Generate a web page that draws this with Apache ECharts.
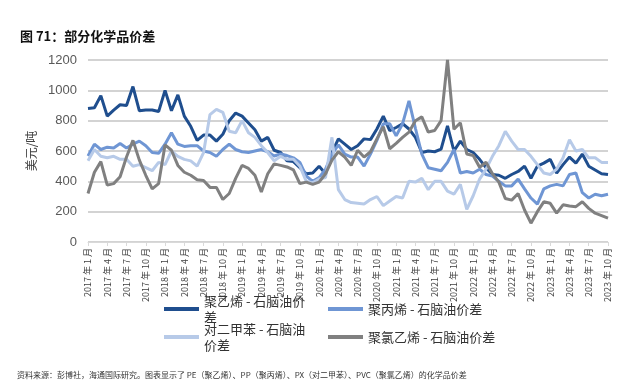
<!DOCTYPE html>
<html><head><meta charset="utf-8">
<script src="https://cdn.jsdelivr.net/npm/echarts@6/dist/echarts.min.js"></script>
<style>html,body{margin:0;padding:0;background:#fff}#c{width:634px;height:386px}</style>
</head><body><div id="c"></div>
<script>
// ---- data ----
const startYear = 2017, monthCount = 82; // 2017-01 .. 2023-10
const categories = [];
for (let i = 0; i < monthCount; i++) {
  const y = startYear + Math.floor(i / 12), m = (i % 12) + 1;
  categories.push(y + ' 年 ' + m + ' 月');
}
const seriesNames = ['聚乙烯 - 石脑油价差', '聚丙烯 - 石脑油价差', '对二甲苯 - 石脑油价差', '聚氯乙烯 - 石脑油价差'];
const pe = [880,885,965,830,870,905,900,1025,865,870,870,860,
            1000,865,970,830,763,670,705,705,665,710,800,850,
            830,785,740,665,690,605,590,535,530,490,450,455,
            500,450,590,680,645,610,635,680,675,745,830,735,
            755,780,745,690,590,600,595,612,765,600,665,610,
            590,545,490,445,440,420,445,465,500,420,500,520,
            545,455,510,560,520,580,500,475,450,445];
const pp = [567,645,610,625,620,650,620,645,665,635,590,585,
            645,720,645,630,635,635,600,590,565,610,645,610,
            595,590,600,610,595,567,580,570,555,525,435,400,
            425,480,580,640,580,560,560,500,580,670,780,780,
            700,780,930,750,580,490,480,470,525,610,455,465,
            455,480,445,435,400,370,370,415,350,290,250,350,
            370,380,370,445,455,325,290,315,305,315];
const px = [535,610,565,555,565,545,545,500,510,490,470,525,
            510,600,565,545,535,500,590,840,875,855,730,720,
            800,720,690,635,590,535,565,545,545,500,400,390,
            415,425,690,345,280,260,255,250,280,300,240,270,
            300,290,400,395,420,345,400,400,335,315,380,215,
            305,415,480,565,635,730,665,610,610,565,510,455,
            445,480,555,675,600,610,555,555,525,525];
const pvc = [320,460,530,375,385,430,560,670,540,440,350,385,
             640,605,505,460,440,410,405,360,360,280,320,420,
             505,485,440,330,450,515,505,495,475,385,395,380,
             395,450,540,595,560,505,605,560,595,680,760,615,
             650,690,725,800,825,725,735,800,1200,743,786,580,
             570,493,526,450,395,287,276,320,211,124,200,265,
             255,190,245,237,233,265,222,190,174,157];
const yTicks = [0, 200, 400, 600, 800, 1000, 1200];
const colors = ['#1f4e8e', '#6f96d4', '#b7cae8', '#808080'];
const legendLabels = ['聚乙烯 - 石脑油价\n差', '聚丙烯 - 石脑油价差', '对二甲苯 - 石脑油\n价差', '聚氯乙烯 - 石脑油价差'];

const chart = echarts.init(document.getElementById('c'), null, {renderer: 'canvas'});
const cjk = '"Noto Sans CJK SC", sans-serif';
const allData = [pe, pp, px, pvc];
const legendPos = [[164, 309], [328, 309], [164, 337], [328, 337]];
const legends = seriesNames.map((n, k) => {
  const twoLine = legendLabels[k].indexOf('\n') >= 0;
  return {
    data: [n], left: legendPos[k][0],
    top: legendPos[k][1] - (twoLine ? 24 : 8),
    padding: 0, itemWidth: 35, itemHeight: 4, icon: 'rect', itemGap: 0,
    selectedMode: false,
    formatter: () => legendLabels[k],
    textStyle: {fontFamily: cjk, fontSize: 13, color: '#333', lineHeight: 16,
                padding: twoLine ? [16, 0, 0, 0] : 0}
  };
});
chart.setOption({
  animation: false,
  color: colors,
  title: {text: '图 71：部分化学品价差', left: 20, top: 30, padding: 0,
          textStyle: {fontFamily: cjk, fontSize: 13, fontWeight: 'bold', color: '#111'}},
  grid: {left: 88, right: 26, top: 60, bottom: 144},
  legend: legends,
  xAxis: {
    type: 'category', data: categories, boundaryGap: false,
    axisLine: {lineStyle: {color: '#d9d9d9', width: 1}},
    axisTick: {show: true, interval: 2, length: 4, lineStyle: {color: '#d9d9d9'}},
    axisLabel: {interval: 2, rotate: 90, fontSize: 9, color: '#404040', margin: 6,
                fontFamily: cjk}
  },
  yAxis: {
    type: 'value', min: yTicks[0], max: yTicks[yTicks.length - 1], interval: 200,
    name: '美元/吨', nameLocation: 'middle', nameRotate: 90, nameGap: 49,
    nameTextStyle: {fontFamily: cjk, fontSize: 12, color: '#404040'},
    axisLine: {show: false}, axisTick: {show: false},
    axisLabel: {fontSize: 13, color: '#595959', margin: 11, fontFamily: 'Liberation Sans',
                formatter: v => String(v)},
    splitLine: {lineStyle: {color: '#c4c4c4', width: 1.5}}
  },
  series: seriesNames.map((n, k) => ({
    name: n, type: 'line', data: allData[k], showSymbol: false, symbol: 'none',
    lineStyle: {width: 3, color: colors[k]}, itemStyle: {color: colors[k]}, z: 2 + k
  })),
  graphic: [{
    type: 'text', left: 17, top: 371,
    style: {text: '资料来源：彭博社，海通国际研究。图表显示了 PE（聚乙烯）、PP（聚丙烯）、PX（对二甲苯）、PVC（聚氯乙烯）的化学品价差',
            fontFamily: cjk, fontSize: 8, fill: '#333'}
  }]
});
</script></body></html>
